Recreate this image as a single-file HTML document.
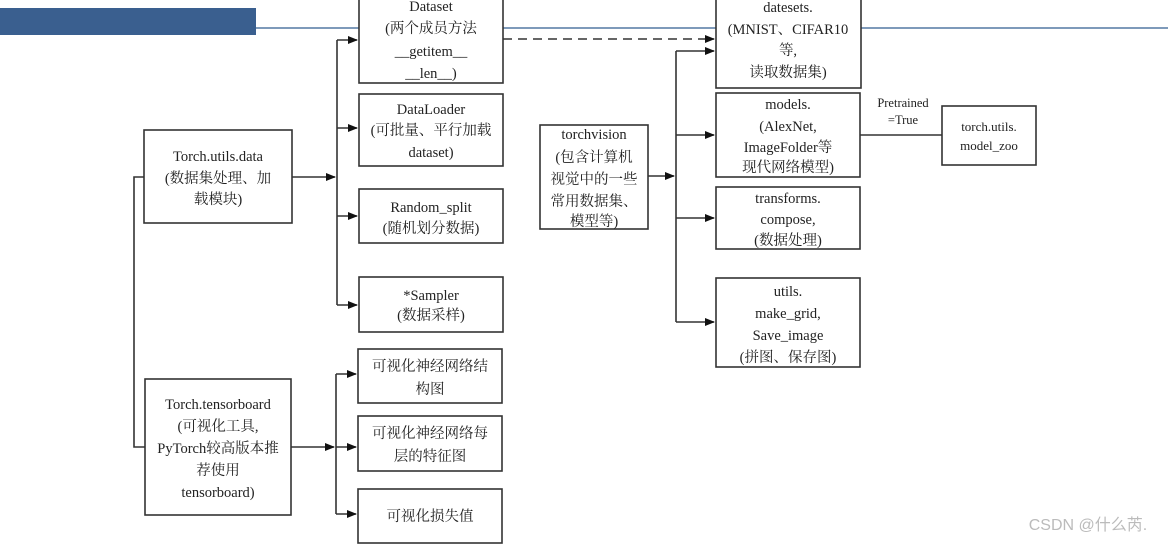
<!DOCTYPE html>
<html><head><meta charset="utf-8"><style>
html,body{margin:0;padding:0;background:#fff;}
svg{display:block}
text{font-family:"Liberation Serif","Noto Serif CJK SC",serif;font-size:14.5px;fill:#222;text-anchor:middle;}
.b{fill:#fff;stroke:#333;stroke-width:1.6}
.l{stroke:#333;stroke-width:1.6;fill:none}
</style></head><body>
<svg width="1170" height="544" viewBox="0 0 1170 544">
<defs><marker id="a" markerWidth="10" markerHeight="8" refX="9" refY="4" orient="auto" markerUnits="userSpaceOnUse"><path d="M0,0 L10,4 L0,8z" fill="#111"/></marker></defs>
<rect x="0" y="8" width="256" height="27" fill="#3a5f8f"/>
<line x1="256" y1="28" x2="1168" y2="28" stroke="#6b8bb0" stroke-width="1.8"/>

<!-- torch.utils.data -->
<rect class="b" x="144" y="130" width="148" height="93"/>
<text x="218" y="161">Torch.utils.data</text>
<text x="218" y="183">(数据集处理、加</text>
<text x="218" y="204">载模块)</text>
<path class="l" d="M292 177 H335" marker-end="url(#a)"/>
<path class="l" d="M337 40 V305"/>
<path class="l" d="M337 40 H357" marker-end="url(#a)"/>
<path class="l" d="M337 128 H357" marker-end="url(#a)"/>
<path class="l" d="M337 216 H357" marker-end="url(#a)"/>
<path class="l" d="M337 305 H357" marker-end="url(#a)"/>
<path class="l" d="M144 177 H134 V447 H145"/>

<rect class="b" x="359" y="-5" width="144" height="88"/>
<text x="431" y="11">Dataset</text>
<text x="431" y="33">(两个成员方法</text>
<text x="431" y="56">__getitem__</text>
<text x="431" y="78">__len__)</text>
<rect class="b" x="359" y="94" width="144" height="72"/>
<text x="431" y="114">DataLoader</text>
<text x="431" y="135">(可批量、平行加载</text>
<text x="431" y="157">dataset)</text>
<rect class="b" x="359" y="189" width="144" height="54"/>
<text x="431" y="212">Random_split</text>
<text x="431" y="233">(随机划分数据)</text>
<rect class="b" x="359" y="277" width="144" height="55"/>
<text x="431" y="300">*Sampler</text>
<text x="431" y="320">(数据采样)</text>

<path class="l" d="M503 39 H714" stroke-dasharray="9,6" marker-end="url(#a)"/>

<!-- torchvision -->
<rect class="b" x="540" y="125" width="108" height="104"/>
<text x="594" y="139">torchvision</text>
<text x="594" y="162">(包含计算机</text>
<text x="594" y="184">视觉中的一些</text>
<text x="594" y="206">常用数据集、</text>
<text x="594" y="226">模型等)</text>
<path class="l" d="M648 176 H674" marker-end="url(#a)"/>
<path class="l" d="M676 51 V322"/>
<path class="l" d="M676 51 H714" marker-end="url(#a)"/>
<path class="l" d="M676 135 H714" marker-end="url(#a)"/>
<path class="l" d="M676 218 H714" marker-end="url(#a)"/>
<path class="l" d="M676 322 H714" marker-end="url(#a)"/>

<rect class="b" x="716" y="-5" width="145" height="93"/>
<text x="788" y="12">datesets.</text>
<text x="788" y="34">(MNIST、CIFAR10</text>
<text x="788" y="55">等,</text>
<text x="788" y="77">读取数据集)</text>
<rect class="b" x="716" y="93" width="144" height="84"/>
<text x="788" y="109">models.</text>
<text x="788" y="131">(AlexNet,</text>
<text x="788" y="152">ImageFolder等</text>
<text x="788" y="172">现代网络模型)</text>
<rect class="b" x="716" y="187" width="144" height="62"/>
<text x="788" y="203">transforms.</text>
<text x="788" y="224">compose,</text>
<text x="788" y="245">(数据处理)</text>
<rect class="b" x="716" y="278" width="144" height="89"/>
<text x="788" y="296">utils.</text>
<text x="788" y="318">make_grid,</text>
<text x="788" y="340">Save_image</text>
<text x="788" y="362">(拼图、保存图)</text>

<path class="l" d="M860 135 H942"/>
<text x="903" y="107" style="font-size:12.5px">Pretrained</text>
<text x="903" y="124" style="font-size:12.5px">=True</text>
<rect class="b" x="942" y="106" width="94" height="59"/>
<text x="989" y="131" style="font-size:13px">torch.utils.</text>
<text x="989" y="150" style="font-size:13px">model_zoo</text>

<!-- tensorboard -->
<rect class="b" x="145" y="379" width="146" height="136"/>
<text x="218" y="409">Torch.tensorboard</text>
<text x="218" y="431">(可视化工具,</text>
<text x="218" y="453">PyTorch较高版本推</text>
<text x="218" y="475">荐使用</text>
<text x="218" y="497">tensorboard)</text>
<path class="l" d="M291 447 H334" marker-end="url(#a)"/>
<path class="l" d="M336 374 V514"/>
<path class="l" d="M336 374 H356" marker-end="url(#a)"/>
<path class="l" d="M336 447 H356" marker-end="url(#a)"/>
<path class="l" d="M336 514 H356" marker-end="url(#a)"/>
<rect class="b" x="358" y="349" width="144" height="54"/>
<text x="430" y="371">可视化神经网络结</text>
<text x="430" y="394">构图</text>
<rect class="b" x="358" y="416" width="144" height="55"/>
<text x="430" y="438">可视化神经网络每</text>
<text x="430" y="461">层的特征图</text>
<rect class="b" x="358" y="489" width="144" height="54"/>
<text x="430" y="521">可视化损失值</text>

<text x="1088" y="530" style="font-family:'Liberation Sans','Noto Sans CJK SC',sans-serif;font-size:16px;fill:#bbb">CSDN @什么芮.</text>
</svg>
</body></html>
